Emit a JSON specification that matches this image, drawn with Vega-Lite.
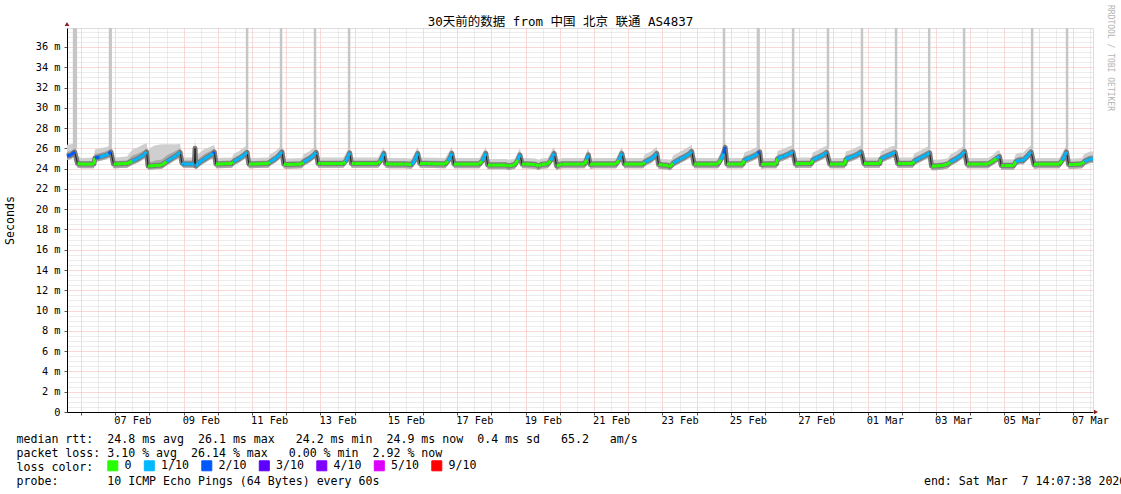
{
"$schema": "https://vega.github.io/schema/vega-lite/v6.json",
"width": 1026, "height": 384,
"autosize": {"type": "none"},
"padding": {"left": 67, "top": 28, "right": 28, "bottom": 82},
"background": "#ffffff",
"title": {"text": "30天前的数据 from 中国 北京 联通 AS4837", "font": "DejaVu Sans Mono, Noto Sans CJK SC", "fontSize": 12.5, "fontWeight": "normal", "color": "#000000", "anchor": "middle", "frame": "group", "dx": -19.5, "dy": 36, "offset": 3, "baseline": "alphabetic"},
"datasets": {
"s": [
{"t":"2026-02-05T14:07Z","m":25.25,"lo":24.85,"hi":25.65,"mx":26.35,"L":"2/10"},
{"t":"2026-02-05T17:00Z","m":25.35,"lo":24.95,"hi":25.75,"mx":26.4,"L":"2/10"},
{"t":"2026-02-05T19:30Z","m":25.65,"lo":25.2,"hi":26.0,"mx":26.5,"L":"3/10"},
{"t":"2026-02-05T21:30Z","m":24.5,"lo":24.1,"hi":24.8,"mx":25.3,"L":"0"},
{"t":"2026-02-06T00:00Z","m":24.45,"lo":24.05,"hi":24.75,"mx":25.05,"L":"0"},
{"t":"2026-02-06T09:00Z","m":24.45,"lo":24.05,"hi":24.75,"mx":25.1,"L":"0"},
{"t":"2026-02-06T09:45Z","m":25.05,"lo":24.65,"hi":25.45,"mx":25.9,"L":"2/10"},
{"t":"2026-02-06T13:00Z","m":25.15,"lo":24.75,"hi":25.55,"mx":26.0,"L":"1/10"},
{"t":"2026-02-06T17:00Z","m":25.3,"lo":24.9,"hi":25.7,"mx":26.1,"L":"1/10"},
{"t":"2026-02-06T19:30Z","m":25.45,"lo":25.05,"hi":25.85,"mx":26.2,"L":"2/10"},
{"t":"2026-02-06T21:00Z","m":25.65,"lo":25.2,"hi":26.0,"mx":26.3,"L":"3/10"},
{"t":"2026-02-06T22:45Z","m":24.45,"lo":24.05,"hi":24.8,"mx":25.1,"L":"0"},
{"t":"2026-02-07T00:00Z","m":24.45,"lo":24.05,"hi":24.75,"mx":25.1,"L":"0"},
{"t":"2026-02-07T08:15Z","m":24.5,"lo":24.1,"hi":24.8,"mx":25.2,"L":"0"},
{"t":"2026-02-07T12:00Z","m":24.75,"lo":24.35,"hi":25.3,"mx":25.9,"L":"1/10"},
{"t":"2026-02-07T16:00Z","m":25.0,"lo":24.6,"hi":25.5,"mx":26.1,"L":"1/10"},
{"t":"2026-02-07T20:00Z","m":25.35,"lo":24.95,"hi":25.8,"mx":26.4,"L":"1/10"},
{"t":"2026-02-07T22:00Z","m":25.65,"lo":25.2,"hi":26.0,"mx":26.5,"L":"3/10"},
{"t":"2026-02-07T23:00Z","m":24.25,"lo":23.9,"hi":24.6,"mx":25.6,"L":"0"},
{"t":"2026-02-08T00:00Z","m":24.25,"lo":23.9,"hi":24.6,"mx":26.0,"L":"0"},
{"t":"2026-02-08T04:00Z","m":24.3,"lo":23.95,"hi":24.8,"mx":26.3,"L":"0"},
{"t":"2026-02-08T08:45Z","m":24.35,"lo":24.0,"hi":24.9,"mx":26.4,"L":"0"},
{"t":"2026-02-08T12:00Z","m":24.7,"lo":24.3,"hi":25.3,"mx":26.4,"L":"1/10"},
{"t":"2026-02-08T16:00Z","m":25.05,"lo":24.65,"hi":25.6,"mx":26.4,"L":"1/10"},
{"t":"2026-02-08T19:00Z","m":25.3,"lo":24.9,"hi":25.8,"mx":26.4,"L":"1/10"},
{"t":"2026-02-08T21:30Z","m":25.6,"lo":25.15,"hi":26.0,"mx":26.45,"L":"3/10"},
{"t":"2026-02-08T22:50Z","m":24.55,"lo":24.2,"hi":24.9,"mx":25.2,"L":"1/10"},
{"t":"2026-02-09T00:00Z","m":24.45,"lo":24.1,"hi":24.8,"mx":25.1,"L":"1/10"},
{"t":"2026-02-09T07:30Z","m":24.45,"lo":24.1,"hi":24.8,"mx":25.1,"L":"1/10"},
{"t":"2026-02-09T08:00Z","m":26.0,"lo":24.3,"hi":26.5,"mx":27.3,"L":"1/10"},
{"t":"2026-02-09T08:30Z","m":24.25,"lo":23.95,"hi":24.7,"mx":25.1,"L":"1/10"},
{"t":"2026-02-09T10:30Z","m":24.55,"lo":24.15,"hi":25.0,"mx":25.5,"L":"1/10"},
{"t":"2026-02-09T14:00Z","m":24.9,"lo":24.5,"hi":25.4,"mx":25.9,"L":"1/10"},
{"t":"2026-02-09T18:00Z","m":25.25,"lo":24.85,"hi":25.7,"mx":26.1,"L":"1/10"},
{"t":"2026-02-09T21:00Z","m":25.5,"lo":25.05,"hi":25.9,"mx":26.3,"L":"2/10"},
{"t":"2026-02-09T21:30Z","m":25.65,"lo":25.2,"hi":26.0,"mx":26.35,"L":"3/10"},
{"t":"2026-02-09T22:40Z","m":24.45,"lo":24.05,"hi":24.8,"mx":25.1,"L":"0"},
{"t":"2026-02-10T00:00Z","m":24.45,"lo":24.05,"hi":24.75,"mx":25.05,"L":"0"},
{"t":"2026-02-10T10:00Z","m":24.5,"lo":24.1,"hi":24.8,"mx":25.1,"L":"0"},
{"t":"2026-02-10T11:00Z","m":24.7,"lo":24.3,"hi":25.05,"mx":25.45,"L":"1/10"},
{"t":"2026-02-10T15:00Z","m":25.0,"lo":24.6,"hi":25.35,"mx":25.75,"L":"1/10"},
{"t":"2026-02-10T18:30Z","m":25.35,"lo":24.95,"hi":25.7,"mx":26.1,"L":"1/10"},
{"t":"2026-02-10T20:30Z","m":25.6,"lo":25.15,"hi":25.9,"mx":26.25,"L":"2/10"},
{"t":"2026-02-10T21:45Z","m":24.45,"lo":24.05,"hi":24.75,"mx":25.05,"L":"0"},
{"t":"2026-02-11T00:00Z","m":24.45,"lo":24.05,"hi":24.75,"mx":25.05,"L":"0"},
{"t":"2026-02-11T11:30Z","m":24.5,"lo":24.1,"hi":24.8,"mx":25.1,"L":"0"},
{"t":"2026-02-11T12:30Z","m":24.65,"lo":24.25,"hi":25.0,"mx":25.4,"L":"1/10"},
{"t":"2026-02-11T17:00Z","m":25.05,"lo":24.65,"hi":25.4,"mx":25.8,"L":"1/10"},
{"t":"2026-02-11T19:30Z","m":25.4,"lo":25.0,"hi":25.75,"mx":26.15,"L":"1/10"},
{"t":"2026-02-11T21:00Z","m":25.65,"lo":25.2,"hi":25.95,"mx":26.3,"L":"2/10"},
{"t":"2026-02-11T22:15Z","m":24.45,"lo":24.05,"hi":24.75,"mx":25.05,"L":"0"},
{"t":"2026-02-12T00:00Z","m":24.4,"lo":24.0,"hi":24.7,"mx":25.0,"L":"0"},
{"t":"2026-02-12T11:00Z","m":24.45,"lo":24.05,"hi":24.75,"mx":25.05,"L":"0"},
{"t":"2026-02-12T12:00Z","m":24.65,"lo":24.25,"hi":25.0,"mx":25.4,"L":"1/10"},
{"t":"2026-02-12T16:30Z","m":25.0,"lo":24.6,"hi":25.35,"mx":25.75,"L":"1/10"},
{"t":"2026-02-12T19:30Z","m":25.35,"lo":24.95,"hi":25.7,"mx":26.1,"L":"1/10"},
{"t":"2026-02-12T21:00Z","m":25.6,"lo":25.15,"hi":25.9,"mx":26.25,"L":"3/10"},
{"t":"2026-02-12T22:20Z","m":24.5,"lo":24.1,"hi":24.8,"mx":25.1,"L":"0"},
{"t":"2026-02-13T00:00Z","m":24.5,"lo":24.1,"hi":24.8,"mx":25.1,"L":"0"},
{"t":"2026-02-13T16:00Z","m":24.5,"lo":24.1,"hi":24.8,"mx":25.1,"L":"0"},
{"t":"2026-02-13T17:30Z","m":24.7,"lo":24.3,"hi":25.05,"mx":25.45,"L":"1/10"},
{"t":"2026-02-13T19:30Z","m":25.2,"lo":24.8,"hi":25.55,"mx":25.95,"L":"1/10"},
{"t":"2026-02-13T20:30Z","m":25.55,"lo":25.1,"hi":25.85,"mx":26.2,"L":"2/10"},
{"t":"2026-02-13T21:45Z","m":24.5,"lo":24.1,"hi":24.8,"mx":25.1,"L":"0"},
{"t":"2026-02-14T00:00Z","m":24.5,"lo":24.1,"hi":24.8,"mx":25.1,"L":"0"},
{"t":"2026-02-14T16:30Z","m":24.5,"lo":24.1,"hi":24.8,"mx":25.1,"L":"0"},
{"t":"2026-02-14T18:00Z","m":24.75,"lo":24.35,"hi":25.1,"mx":25.5,"L":"1/10"},
{"t":"2026-02-14T19:30Z","m":25.15,"lo":24.75,"hi":25.5,"mx":25.9,"L":"1/10"},
{"t":"2026-02-14T20:30Z","m":25.5,"lo":25.05,"hi":25.8,"mx":26.15,"L":"2/10"},
{"t":"2026-02-14T21:40Z","m":24.5,"lo":24.1,"hi":24.8,"mx":25.1,"L":"0"},
{"t":"2026-02-15T00:00Z","m":24.45,"lo":24.05,"hi":24.75,"mx":25.05,"L":"0"},
{"t":"2026-02-15T11:00Z","m":24.45,"lo":24.05,"hi":24.75,"mx":25.05,"L":"0"},
{"t":"2026-02-15T16:00Z","m":24.4,"lo":24.0,"hi":24.7,"mx":25.0,"L":"1/10"},
{"t":"2026-02-15T18:30Z","m":24.9,"lo":24.5,"hi":25.25,"mx":25.65,"L":"1/10"},
{"t":"2026-02-15T20:15Z","m":25.5,"lo":25.05,"hi":25.8,"mx":26.15,"L":"2/10"},
{"t":"2026-02-15T21:45Z","m":24.5,"lo":24.1,"hi":24.8,"mx":25.1,"L":"0"},
{"t":"2026-02-16T00:00Z","m":24.5,"lo":24.1,"hi":24.8,"mx":25.1,"L":"0"},
{"t":"2026-02-16T15:30Z","m":24.45,"lo":24.05,"hi":24.75,"mx":25.05,"L":"0"},
{"t":"2026-02-16T17:30Z","m":24.75,"lo":24.35,"hi":25.1,"mx":25.5,"L":"1/10"},
{"t":"2026-02-16T19:00Z","m":25.1,"lo":24.7,"hi":25.45,"mx":25.85,"L":"1/10"},
{"t":"2026-02-16T20:10Z","m":25.5,"lo":25.05,"hi":25.8,"mx":26.15,"L":"2/10"},
{"t":"2026-02-16T21:40Z","m":24.45,"lo":24.05,"hi":24.75,"mx":25.05,"L":"0"},
{"t":"2026-02-17T00:00Z","m":24.45,"lo":24.05,"hi":24.75,"mx":25.05,"L":"0"},
{"t":"2026-02-17T15:30Z","m":24.45,"lo":24.05,"hi":24.75,"mx":25.05,"L":"0"},
{"t":"2026-02-17T17:30Z","m":24.75,"lo":24.35,"hi":25.1,"mx":25.5,"L":"1/10"},
{"t":"2026-02-17T19:00Z","m":25.15,"lo":24.75,"hi":25.5,"mx":25.9,"L":"1/10"},
{"t":"2026-02-17T20:00Z","m":25.5,"lo":25.05,"hi":25.8,"mx":26.15,"L":"2/10"},
{"t":"2026-02-17T21:20Z","m":24.35,"lo":23.95,"hi":24.65,"mx":24.95,"L":"0"},
{"t":"2026-02-18T00:00Z","m":24.35,"lo":23.95,"hi":24.65,"mx":24.95,"L":"0"},
{"t":"2026-02-18T10:00Z","m":24.35,"lo":23.95,"hi":24.65,"mx":24.95,"L":"0"},
{"t":"2026-02-18T12:00Z","m":24.25,"lo":23.85,"hi":24.55,"mx":24.85,"L":"0"},
{"t":"2026-02-18T16:30Z","m":24.4,"lo":24.0,"hi":24.7,"mx":25.0,"L":"0"},
{"t":"2026-02-18T18:30Z","m":24.85,"lo":24.45,"hi":25.2,"mx":25.6,"L":"1/10"},
{"t":"2026-02-18T20:00Z","m":25.35,"lo":24.9,"hi":25.65,"mx":26.0,"L":"2/10"},
{"t":"2026-02-18T21:30Z","m":24.45,"lo":24.05,"hi":24.75,"mx":25.05,"L":"0"},
{"t":"2026-02-19T00:00Z","m":24.45,"lo":24.05,"hi":24.75,"mx":25.05,"L":"0"},
{"t":"2026-02-19T07:00Z","m":24.4,"lo":24.0,"hi":24.7,"mx":25.0,"L":"0"},
{"t":"2026-02-19T09:00Z","m":24.25,"lo":23.85,"hi":24.55,"mx":24.85,"L":"0"},
{"t":"2026-02-19T11:00Z","m":24.4,"lo":24.0,"hi":24.7,"mx":25.0,"L":"0"},
{"t":"2026-02-19T15:30Z","m":24.45,"lo":24.05,"hi":24.75,"mx":25.05,"L":"0"},
{"t":"2026-02-19T17:30Z","m":24.8,"lo":24.4,"hi":25.15,"mx":25.55,"L":"1/10"},
{"t":"2026-02-19T19:00Z","m":25.2,"lo":24.8,"hi":25.55,"mx":25.95,"L":"1/10"},
{"t":"2026-02-19T20:00Z","m":25.5,"lo":25.05,"hi":25.8,"mx":26.15,"L":"2/10"},
{"t":"2026-02-19T21:45Z","m":24.25,"lo":23.85,"hi":24.55,"mx":24.85,"L":"0"},
{"t":"2026-02-20T00:00Z","m":24.4,"lo":24.0,"hi":24.7,"mx":25.0,"L":"0"},
{"t":"2026-02-20T02:00Z","m":24.45,"lo":24.05,"hi":24.75,"mx":25.05,"L":"0"},
{"t":"2026-02-20T17:30Z","m":24.45,"lo":24.05,"hi":24.75,"mx":25.05,"L":"0"},
{"t":"2026-02-20T18:45Z","m":24.9,"lo":24.5,"hi":25.25,"mx":25.65,"L":"1/10"},
{"t":"2026-02-20T20:00Z","m":25.35,"lo":24.9,"hi":25.65,"mx":26.0,"L":"2/10"},
{"t":"2026-02-20T21:15Z","m":24.4,"lo":24.0,"hi":24.7,"mx":25.0,"L":"0"},
{"t":"2026-02-21T00:00Z","m":24.45,"lo":24.05,"hi":24.75,"mx":25.05,"L":"0"},
{"t":"2026-02-21T15:30Z","m":24.45,"lo":24.05,"hi":24.75,"mx":25.05,"L":"0"},
{"t":"2026-02-21T17:30Z","m":24.85,"lo":24.45,"hi":25.2,"mx":25.6,"L":"1/10"},
{"t":"2026-02-21T19:30Z","m":25.5,"lo":25.05,"hi":25.8,"mx":26.15,"L":"2/10"},
{"t":"2026-02-21T21:10Z","m":24.45,"lo":24.05,"hi":24.75,"mx":25.05,"L":"0"},
{"t":"2026-02-22T00:00Z","m":24.45,"lo":24.05,"hi":24.75,"mx":25.05,"L":"0"},
{"t":"2026-02-22T10:30Z","m":24.45,"lo":24.05,"hi":24.75,"mx":25.05,"L":"0"},
{"t":"2026-02-22T11:30Z","m":24.65,"lo":24.25,"hi":25.0,"mx":25.4,"L":"1/10"},
{"t":"2026-02-22T16:00Z","m":24.95,"lo":24.55,"hi":25.3,"mx":25.7,"L":"1/10"},
{"t":"2026-02-22T18:30Z","m":25.25,"lo":24.85,"hi":25.6,"mx":26.0,"L":"1/10"},
{"t":"2026-02-22T20:00Z","m":25.5,"lo":25.05,"hi":25.8,"mx":26.15,"L":"2/10"},
{"t":"2026-02-22T21:15Z","m":24.4,"lo":24.0,"hi":24.7,"mx":25.0,"L":"0"},
{"t":"2026-02-23T00:00Z","m":24.35,"lo":23.95,"hi":24.65,"mx":24.95,"L":"0"},
{"t":"2026-02-23T04:00Z","m":24.3,"lo":23.9,"hi":24.6,"mx":24.9,"L":"0"},
{"t":"2026-02-23T05:00Z","m":24.22,"lo":23.82,"hi":24.52,"mx":24.82,"L":"0"},
{"t":"2026-02-23T06:30Z","m":24.35,"lo":23.95,"hi":24.65,"mx":24.95,"L":"0"},
{"t":"2026-02-23T07:30Z","m":24.55,"lo":24.15,"hi":24.9,"mx":25.3,"L":"1/10"},
{"t":"2026-02-23T12:00Z","m":24.9,"lo":24.5,"hi":25.25,"mx":25.65,"L":"1/10"},
{"t":"2026-02-23T16:00Z","m":25.2,"lo":24.8,"hi":25.55,"mx":25.95,"L":"1/10"},
{"t":"2026-02-23T19:00Z","m":25.45,"lo":25.05,"hi":25.8,"mx":26.2,"L":"1/10"},
{"t":"2026-02-23T20:30Z","m":25.7,"lo":25.25,"hi":26.0,"mx":26.35,"L":"2/10"},
{"t":"2026-02-23T22:15Z","m":24.45,"lo":24.05,"hi":24.75,"mx":25.05,"L":"0"},
{"t":"2026-02-24T00:00Z","m":24.45,"lo":24.05,"hi":24.75,"mx":25.05,"L":"0"},
{"t":"2026-02-24T15:00Z","m":24.45,"lo":24.05,"hi":24.75,"mx":25.05,"L":"0"},
{"t":"2026-02-24T17:00Z","m":24.9,"lo":24.5,"hi":25.25,"mx":25.65,"L":"1/10"},
{"t":"2026-02-24T19:00Z","m":25.5,"lo":25.05,"hi":25.8,"mx":26.15,"L":"2/10"},
{"t":"2026-02-24T20:00Z","m":26.1,"lo":25.65,"hi":26.4,"mx":26.75,"L":"2/10"},
{"t":"2026-02-24T21:10Z","m":24.45,"lo":24.05,"hi":24.75,"mx":25.05,"L":"0"},
{"t":"2026-02-25T00:00Z","m":24.45,"lo":24.05,"hi":24.75,"mx":25.05,"L":"0"},
{"t":"2026-02-25T08:30Z","m":24.45,"lo":24.05,"hi":24.75,"mx":25.05,"L":"0"},
{"t":"2026-02-25T09:30Z","m":24.85,"lo":24.45,"hi":25.2,"mx":25.6,"L":"1/10"},
{"t":"2026-02-25T14:00Z","m":25.1,"lo":24.7,"hi":25.45,"mx":25.85,"L":"1/10"},
{"t":"2026-02-25T17:00Z","m":25.3,"lo":24.9,"hi":25.65,"mx":26.05,"L":"1/10"},
{"t":"2026-02-25T19:00Z","m":25.5,"lo":25.05,"hi":25.8,"mx":26.15,"L":"2/10"},
{"t":"2026-02-25T20:15Z","m":25.65,"lo":25.2,"hi":25.95,"mx":26.3,"L":"3/10"},
{"t":"2026-02-25T21:20Z","m":24.4,"lo":24.0,"hi":24.7,"mx":25.0,"L":"0"},
{"t":"2026-02-26T00:00Z","m":24.45,"lo":24.05,"hi":24.75,"mx":25.05,"L":"0"},
{"t":"2026-02-26T08:00Z","m":24.45,"lo":24.05,"hi":24.75,"mx":25.05,"L":"0"},
{"t":"2026-02-26T08:45Z","m":25.0,"lo":24.6,"hi":25.35,"mx":25.75,"L":"1/10"},
{"t":"2026-02-26T13:00Z","m":25.2,"lo":24.8,"hi":25.55,"mx":25.95,"L":"1/10"},
{"t":"2026-02-26T17:00Z","m":25.45,"lo":25.05,"hi":25.8,"mx":26.2,"L":"1/10"},
{"t":"2026-02-26T19:30Z","m":25.65,"lo":25.2,"hi":25.95,"mx":26.3,"L":"3/10"},
{"t":"2026-02-26T21:15Z","m":24.45,"lo":24.05,"hi":24.75,"mx":25.05,"L":"0"},
{"t":"2026-02-27T00:00Z","m":24.5,"lo":24.1,"hi":24.8,"mx":25.1,"L":"0"},
{"t":"2026-02-27T08:30Z","m":24.5,"lo":24.1,"hi":24.8,"mx":25.1,"L":"0"},
{"t":"2026-02-27T09:30Z","m":24.85,"lo":24.45,"hi":25.2,"mx":25.6,"L":"1/10"},
{"t":"2026-02-27T14:00Z","m":25.15,"lo":24.75,"hi":25.5,"mx":25.9,"L":"1/10"},
{"t":"2026-02-27T17:30Z","m":25.4,"lo":25.0,"hi":25.75,"mx":26.15,"L":"1/10"},
{"t":"2026-02-27T19:15Z","m":25.6,"lo":25.15,"hi":25.9,"mx":26.25,"L":"3/10"},
{"t":"2026-02-27T21:20Z","m":24.45,"lo":24.05,"hi":24.75,"mx":25.05,"L":"0"},
{"t":"2026-02-28T00:00Z","m":24.45,"lo":24.05,"hi":24.75,"mx":25.05,"L":"0"},
{"t":"2026-02-28T08:00Z","m":24.45,"lo":24.05,"hi":24.75,"mx":25.05,"L":"0"},
{"t":"2026-02-28T08:45Z","m":24.95,"lo":24.55,"hi":25.3,"mx":25.7,"L":"1/10"},
{"t":"2026-02-28T13:00Z","m":25.15,"lo":24.75,"hi":25.5,"mx":25.9,"L":"1/10"},
{"t":"2026-02-28T17:00Z","m":25.4,"lo":25.0,"hi":25.75,"mx":26.15,"L":"1/10"},
{"t":"2026-02-28T19:30Z","m":25.65,"lo":25.2,"hi":25.95,"mx":26.3,"L":"3/10"},
{"t":"2026-02-28T21:25Z","m":24.5,"lo":24.1,"hi":24.8,"mx":25.1,"L":"0"},
{"t":"2026-03-01T00:00Z","m":24.5,"lo":24.1,"hi":24.8,"mx":25.1,"L":"0"},
{"t":"2026-03-01T08:30Z","m":24.5,"lo":24.1,"hi":24.8,"mx":25.1,"L":"0"},
{"t":"2026-03-01T09:15Z","m":24.95,"lo":24.55,"hi":25.3,"mx":25.7,"L":"1/10"},
{"t":"2026-03-01T13:00Z","m":25.2,"lo":24.8,"hi":25.55,"mx":25.95,"L":"1/10"},
{"t":"2026-03-01T17:00Z","m":25.45,"lo":25.05,"hi":25.8,"mx":26.2,"L":"1/10"},
{"t":"2026-03-01T19:15Z","m":25.6,"lo":25.15,"hi":25.9,"mx":26.25,"L":"3/10"},
{"t":"2026-03-01T21:00Z","m":24.5,"lo":24.1,"hi":24.8,"mx":25.1,"L":"0"},
{"t":"2026-03-02T00:00Z","m":24.5,"lo":24.1,"hi":24.8,"mx":25.1,"L":"0"},
{"t":"2026-03-02T07:45Z","m":24.5,"lo":24.1,"hi":24.8,"mx":25.1,"L":"0"},
{"t":"2026-03-02T08:45Z","m":24.75,"lo":24.35,"hi":25.1,"mx":25.5,"L":"1/10"},
{"t":"2026-03-02T13:00Z","m":25.05,"lo":24.65,"hi":25.4,"mx":25.8,"L":"1/10"},
{"t":"2026-03-02T17:00Z","m":25.35,"lo":24.95,"hi":25.7,"mx":26.1,"L":"1/10"},
{"t":"2026-03-02T19:30Z","m":25.55,"lo":25.1,"hi":25.85,"mx":26.2,"L":"3/10"},
{"t":"2026-03-02T20:50Z","m":24.25,"lo":23.85,"hi":24.55,"mx":24.85,"L":"0"},
{"t":"2026-03-03T00:00Z","m":24.25,"lo":23.85,"hi":24.55,"mx":24.85,"L":"0"},
{"t":"2026-03-03T04:00Z","m":24.3,"lo":23.9,"hi":24.6,"mx":24.9,"L":"0"},
{"t":"2026-03-03T08:30Z","m":24.45,"lo":24.05,"hi":24.75,"mx":25.05,"L":"0"},
{"t":"2026-03-03T10:00Z","m":24.65,"lo":24.25,"hi":25.0,"mx":25.4,"L":"1/10"},
{"t":"2026-03-03T14:00Z","m":24.95,"lo":24.55,"hi":25.3,"mx":25.7,"L":"1/10"},
{"t":"2026-03-03T18:00Z","m":25.35,"lo":24.95,"hi":25.7,"mx":26.1,"L":"1/10"},
{"t":"2026-03-03T20:00Z","m":25.7,"lo":25.25,"hi":26.0,"mx":26.35,"L":"2/10"},
{"t":"2026-03-03T21:40Z","m":24.45,"lo":24.05,"hi":24.75,"mx":25.05,"L":"0"},
{"t":"2026-03-04T00:00Z","m":24.45,"lo":24.05,"hi":24.75,"mx":25.05,"L":"0"},
{"t":"2026-03-04T12:30Z","m":24.45,"lo":24.05,"hi":24.75,"mx":25.05,"L":"0"},
{"t":"2026-03-04T16:00Z","m":24.75,"lo":24.35,"hi":25.05,"mx":25.35,"L":"0"},
{"t":"2026-03-04T18:30Z","m":25.0,"lo":24.6,"hi":25.35,"mx":25.75,"L":"1/10"},
{"t":"2026-03-04T20:30Z","m":25.2,"lo":24.75,"hi":25.5,"mx":25.85,"L":"2/10"},
{"t":"2026-03-04T21:45Z","m":24.3,"lo":23.9,"hi":24.6,"mx":24.9,"L":"0"},
{"t":"2026-03-05T00:00Z","m":24.3,"lo":23.9,"hi":24.6,"mx":24.9,"L":"0"},
{"t":"2026-03-05T06:30Z","m":24.3,"lo":23.9,"hi":24.6,"mx":24.9,"L":"0"},
{"t":"2026-03-05T08:00Z","m":24.7,"lo":24.3,"hi":25.05,"mx":25.45,"L":"1/10"},
{"t":"2026-03-05T11:00Z","m":24.85,"lo":24.45,"hi":25.2,"mx":25.6,"L":"1/10"},
{"t":"2026-03-05T13:00Z","m":24.8,"lo":24.4,"hi":25.15,"mx":25.55,"L":"1/10"},
{"t":"2026-03-05T16:30Z","m":25.3,"lo":24.9,"hi":25.65,"mx":26.05,"L":"1/10"},
{"t":"2026-03-05T18:45Z","m":25.65,"lo":25.2,"hi":25.95,"mx":26.3,"L":"3/10"},
{"t":"2026-03-05T20:40Z","m":24.4,"lo":24.0,"hi":24.7,"mx":25.0,"L":"0"},
{"t":"2026-03-06T00:00Z","m":24.45,"lo":24.05,"hi":24.75,"mx":25.05,"L":"0"},
{"t":"2026-03-06T14:30Z","m":24.45,"lo":24.05,"hi":24.75,"mx":25.05,"L":"0"},
{"t":"2026-03-06T16:30Z","m":24.8,"lo":24.4,"hi":25.15,"mx":25.55,"L":"1/10"},
{"t":"2026-03-06T18:30Z","m":25.3,"lo":24.9,"hi":25.65,"mx":26.05,"L":"1/10"},
{"t":"2026-03-06T19:30Z","m":25.65,"lo":25.2,"hi":25.95,"mx":26.3,"L":"2/10"},
{"t":"2026-03-06T21:00Z","m":24.4,"lo":24.0,"hi":24.7,"mx":25.0,"L":"0"},
{"t":"2026-03-07T00:00Z","m":24.4,"lo":24.0,"hi":24.7,"mx":25.0,"L":"0"},
{"t":"2026-03-07T06:30Z","m":24.45,"lo":24.05,"hi":24.75,"mx":25.05,"L":"0"},
{"t":"2026-03-07T08:00Z","m":24.7,"lo":24.3,"hi":25.05,"mx":25.45,"L":"1/10"},
{"t":"2026-03-07T12:00Z","m":24.95,"lo":24.55,"hi":25.3,"mx":25.7,"L":"1/10"},
{"t":"2026-03-07T14:07Z","m":24.95,"lo":24.55,"hi":25.3,"mx":25.7,"L":"1/10"}
],
"k": [
{"t":"2026-02-05T19:05Z","a":25.9,"b":37.87},{"t":"2026-02-05T20:20Z","a":25.9,"b":37.87},{"t":"2026-02-06T20:20Z","a":25.9,"b":37.87},{"t":"2026-02-06T20:45Z","a":25.9,"b":37.87},
{"t":"2026-02-10T20:30Z","a":25.9,"b":37.87},{"t":"2026-02-11T20:20Z","a":25.9,"b":37.87},{"t":"2026-02-12T20:10Z","a":25.9,"b":37.87},{"t":"2026-02-13T20:05Z","a":25.9,"b":37.87},
{"t":"2026-02-24T19:10Z","a":25.9,"b":37.87},{"t":"2026-02-25T19:00Z","a":25.9,"b":37.87},{"t":"2026-02-25T19:25Z","a":25.9,"b":37.87},{"t":"2026-02-26T19:40Z","a":25.9,"b":37.87},
{"t":"2026-02-27T20:10Z","a":25.9,"b":37.87},{"t":"2026-02-28T20:00Z","a":25.9,"b":37.87},{"t":"2026-03-01T19:55Z","a":25.9,"b":37.87},{"t":"2026-03-02T19:10Z","a":25.9,"b":37.87},
{"t":"2026-03-03T19:40Z","a":25.9,"b":37.87},{"t":"2026-03-05T19:25Z","a":25.9,"b":37.87},{"t":"2026-03-06T19:55Z","a":25.9,"b":37.87}
],
"w": [{"w": "RRDTOOL / TOBI OETIKER"}]
},
"layer": [
{"data": {"name": "s"}, "mark": {"type": "area", "color": "#cfcfcf"},
 "encoding": {
  "x": {"field": "t", "type": "temporal",
   "scale": {"type": "utc", "domain": [{"year": 2026, "month": 2, "date": 5, "hours": 14, "minutes": 7, "seconds": 38, "utc": true}, {"year": 2026, "month": 3, "date": 7, "hours": 14, "minutes": 7, "seconds": 38, "utc": true}]},
   "axis": {"tickCount": 60, "grid": true, "gridDash": [1, 1], "gridWidth": 1,
    "gridColor": {"condition": {"test": "utchours(datum.value) == 0", "value": "#f4b0b0"}, "value": "#d8d8d8"},
    "domainColor": "#000000", "tickSize": 3,
    "tickColor": {"condition": {"test": "utchours(datum.value) == 0", "value": "#555555"}, "value": "#ffffff"},
    "labelExpr": "utchours(datum.value) == 12 && utcdate(datum.value) % 2 == 1 ? utcFormat(datum.value, '%d %b') : ''",
    "labelFont": "DejaVu Sans Mono", "labelFontSize": 10.3, "labelColor": "#000000", "labelAngle": 0, "labelPadding": 0,
    "labelOverlap": false, "labelFlush": false, "labelBound": false,
    "title": ["median rtt:\u00a0\u00a024.8 ms avg\u00a0\u00a026.1 ms max\u00a0\u00a0\u00a024.2 ms min\u00a0\u00a024.9 ms now\u00a0\u00a00.4 ms sd\u00a0\u00a0\u00a065.2\u00a0\u00a0\u00a0am/s", "packet loss: 3.10 % avg\u00a0\u00a026.14 % max\u00a0\u00a0\u00a00.00 % min\u00a0\u00a02.92 % now", "loss color:", "probe:\u00a0\u00a0\u00a0\u00a0\u00a0\u00a0\u00a010 ICMP Echo Pings (64 Bytes) every 60s\u00a0\u00a0\u00a0\u00a0\u00a0\u00a0\u00a0\u00a0\u00a0\u00a0\u00a0\u00a0\u00a0\u00a0\u00a0\u00a0\u00a0\u00a0\u00a0\u00a0\u00a0\u00a0\u00a0\u00a0\u00a0\u00a0\u00a0\u00a0\u00a0\u00a0\u00a0\u00a0\u00a0\u00a0\u00a0\u00a0\u00a0\u00a0\u00a0\u00a0\u00a0\u00a0\u00a0\u00a0\u00a0\u00a0\u00a0\u00a0\u00a0\u00a0\u00a0\u00a0\u00a0\u00a0\u00a0\u00a0\u00a0\u00a0\u00a0\u00a0\u00a0\u00a0\u00a0\u00a0\u00a0\u00a0\u00a0\u00a0\u00a0\u00a0\u00a0\u00a0\u00a0\u00a0\u00a0\u00a0\u00a0\u00a0end: Sat Mar\u00a0\u00a07 14:07:38 2026"],
    "titleFont": "DejaVu Sans Mono", "titleFontSize": 11.6, "titleFontWeight": "normal", "titleColor": "#000000",
    "titleAlign": "left", "titleAnchor": "start", "titleAngle": 0, "titleX": -51, "titleY": 30, "titleBaseline": "alphabetic", "titleLineHeight": 14}},
  "y": {"field": "lo", "type": "quantitative", "scale": {"domain": [0, 37.87], "nice": false, "zero": true},
   "axis": {"orient": "left", "tickCount": 76, "grid": true, "gridDash": [1, 1], "gridWidth": 1,
    "gridColor": {"condition": {"test": "datum.value % 2 == 0", "value": "#f4b0b0"}, "value": "#d8d8d8"},
    "domainColor": "#000000", "tickSize": 3,
    "tickColor": {"condition": {"test": "datum.value % 2 == 0", "value": "#555555"}, "value": "#ffffff"},
    "labelExpr": "datum.value % 2 == 0 ? (datum.value == 0 ? '0\u00a0\u00a0\u00a0' : datum.value + ' m') : ''",
    "labelFont": "DejaVu Sans Mono", "labelFontSize": 10.3, "labelColor": "#000000", "labelPadding": 4,
    "labelOverlap": false, "labelFlush": false, "labelBound": false,
    "title": "Seconds", "titleFont": "DejaVu Sans Mono", "titleFontSize": 11.6, "titleFontWeight": "normal", "titleColor": "#000000",
    "titleAngle": 270, "titleX": -57, "titleY": 192, "titleAlign": "center", "titleBaseline": "middle"}},
  "y2": {"field": "mx"}}},
{"data": {"name": "s"}, "mark": {"type": "area", "color": "#a8a8a8"},
 "encoding": {
  "x": {"field": "t", "type": "temporal"},
  "y": {"field": "lo", "type": "quantitative"},
  "y2": {"field": "hi"}}},
{"data": {"name": "k"}, "mark": {"type": "rule", "color": "#c6c6c6", "strokeWidth": 2.5},
 "encoding": {
  "x": {"field": "t", "type": "temporal"},
  "y": {"field": "a", "type": "quantitative"},
  "y2": {"field": "b"}}},
{"data": {"name": "s"}, "mark": {"type": "line", "color": "#7a7a7a", "strokeWidth": 5, "strokeJoin": "round"},
 "encoding": {
  "x": {"field": "t", "type": "temporal"},
  "y": {"field": "m", "type": "quantitative"}}},
{"data": {"name": "s"}, "mark": {"type": "line", "color": "#202020", "strokeWidth": 1, "strokeJoin": "round"},
 "encoding": {
  "x": {"field": "t", "type": "temporal"},
  "y": {"field": "m", "type": "quantitative"}}},
{"data": {"name": "s"},
 "transform": [
  {"window": [{"op": "lead", "field": "t", "as": "t2"}, {"op": "lead", "field": "m", "as": "m2"}], "sort": [{"field": "t", "order": "ascending"}]},
  {"filter": "datum.t2 != null && abs(datum.m2 - datum.m) < 0.8"}
 ],
 "mark": {"type": "rule", "strokeWidth": 3},
 "encoding": {
  "x": {"field": "t", "type": "temporal"},
  "x2": {"field": "t2"},
  "y": {"field": "m", "type": "quantitative"},
  "y2": {"field": "m2"},
  "color": {"field": "L", "type": "nominal",
   "scale": {"domain": ["0", "1/10", "2/10", "3/10", "4/10", "5/10", "9/10"], "range": ["#26ff00", "#00b8ff", "#0059ff", "#5e00ff", "#7e00ff", "#dd00ff", "#ff0000"]},
   "legend": {"orient": "none", "legendX": 40, "legendY": 432, "direction": "horizontal", "columns": 7,
    "title": null,
    "labelFont": "DejaVu Sans Mono", "labelFontSize": 11.6, "labelColor": "#000000", "labelOffset": 6,
    "symbolType": "square", "symbolSize": 100, "symbolStrokeWidth": 1, "symbolStrokeColor": "#000000",
    "columnPadding": 9.5, "gridAlign": "none", "padding": 0,
    "encode": {"symbols": {"update": {"fill": {"scale": "color", "field": "value"}, "fillOpacity": {"value": 1}, "stroke": {"value": "#000000"}}}}}}}},
{"data": {"name": "w"}, "mark": {"type": "text", "angle": 90, "align": "left", "baseline": "middle", "font": "DejaVu Sans Mono", "fontSize": 8, "color": "#b4b4b4", "dx": -23, "dy": -17},
 "encoding": {
  "x": {"datum": {"year": 2026, "month": 3, "date": 7, "hours": 14, "minutes": 7, "seconds": 38, "utc": true}, "type": "temporal"},
  "y": {"datum": 37.87, "type": "quantitative"},
  "text": {"field": "w"}}},
{"data": {"name": "w"}, "mark": {"type": "point", "shape": "triangle-up", "size": 22, "filled": true, "color": "#8b1a1a", "opacity": 1, "yOffset": -4},
 "encoding": {
  "x": {"datum": {"year": 2026, "month": 2, "date": 5, "hours": 14, "minutes": 7, "seconds": 38, "utc": true}, "type": "temporal"},
  "y": {"datum": 37.87, "type": "quantitative"}}},
{"data": {"name": "w"}, "mark": {"type": "point", "shape": "triangle-right", "size": 22, "filled": true, "color": "#8b1a1a", "opacity": 1, "xOffset": 3},
 "encoding": {
  "x": {"datum": {"year": 2026, "month": 3, "date": 7, "hours": 14, "minutes": 7, "seconds": 38, "utc": true}, "type": "temporal"},
  "y": {"datum": 0, "type": "quantitative"}}}
]
}
